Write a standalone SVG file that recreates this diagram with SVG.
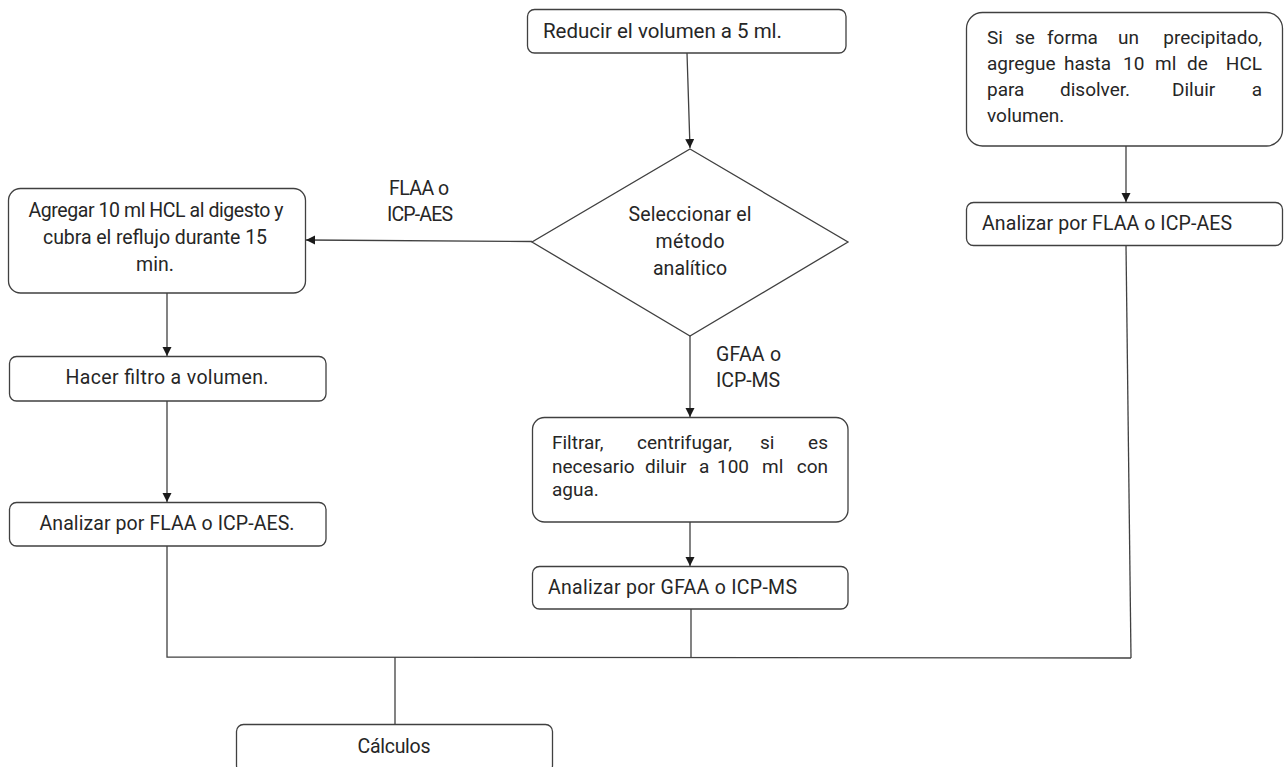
<svg xmlns="http://www.w3.org/2000/svg" width="1287" height="767" viewBox="0 0 1287 767">
  <style>
    .box { fill: #ffffff; stroke: #404040; stroke-width: 1.3; }
    .t { font-family: Roboto, "Open Sans", "Liberation Sans", sans-serif; font-size: 19.5px; fill: #262626; }
    .j { font-size: 19px; }
    .big { font-size: 20.5px; }
    .c { text-anchor: middle; }
    .ln { fill: none; stroke: #404040; stroke-width: 1.3; }
  </style>
  <defs>
    <marker id="arrow" markerUnits="userSpaceOnUse" markerWidth="10" markerHeight="10" refX="9" refY="4.5" orient="auto">
      <path d="M0,0 L9,4.5 L0,9 z" fill="#1a1a1a"/>
    </marker>
  </defs>
  <rect width="1287" height="767" fill="#ffffff"/>

  <!-- connectors -->
  <g id="connectors">
    <path class="ln" d="M687,53 L690,148" marker-end="url(#arrow)"/>
    <path class="ln" d="M532,241.5 L306,240" marker-end="url(#arrow)"/>
    <path class="ln" d="M167,293 L167,356" marker-end="url(#arrow)"/>
    <path class="ln" d="M167,401 L167,502" marker-end="url(#arrow)"/>
    <path class="ln" d="M690,336 L690,417" marker-end="url(#arrow)"/>
    <path class="ln" d="M690,522 L690,566" marker-end="url(#arrow)"/>
    <path class="ln" d="M1126,146 L1126,202" marker-end="url(#arrow)"/>
    <!-- collecting line towards the calculation step -->
    <path class="ln" d="M167,546 L167,657 L1131,658"/>
    <path class="ln" d="M691,609 L691,657"/>
    <path class="ln" d="M1126,245 L1131,658"/>
    <path class="ln" d="M395,657 L395,725"/>
    <text class="t c" x="419" y="195" textLength="60">FLAA o</text>
    <text class="t c" x="420" y="221" textLength="66">ICP-AES</text>
    <text class="t" x="716" y="361" textLength="65">GFAA o</text>
    <text class="t" x="716" y="387" textLength="64">ICP-MS</text>
  </g>

  <g id="reducir">
    <rect class="box" x="527.5" y="9.5" width="318.5" height="43.5" rx="7"/>
    <text class="t big" x="543" y="38" textLength="239">Reducir el volumen a 5 ml.</text>
  </g>

  <g id="seleccionar">
    <path class="box" d="M690,149 L848,242 L690,336 L532,242 z"/>
    <text class="t c" x="690" y="221" textLength="123">Seleccionar el</text>
    <text class="t c" x="690" y="248" textLength="69">método</text>
    <text class="t c" x="690" y="275" textLength="74">analítico</text>
  </g>

  <g id="agregar">
    <rect class="box" x="8.5" y="188.5" width="297" height="104.5" rx="12"/>
    <text class="t c" x="156" y="217" textLength="255">Agregar 10 ml HCL al digesto y</text>
    <text class="t c" x="155" y="244" textLength="224">cubra el reflujo durante 15</text>
    <text class="t c" x="155" y="271">min.</text>
  </g>

  <g id="hacer-filtro">
    <rect class="box" x="9.5" y="356.5" width="316.5" height="44.5" rx="7"/>
    <text class="t c" x="167" y="384" textLength="203">Hacer filtro a volumen.</text>
  </g>

  <g id="analizar-flaa">
    <rect class="box" x="9.5" y="502.5" width="316.5" height="43.5" rx="7"/>
    <text class="t c" x="167" y="530" textLength="255">Analizar por FLAA o ICP-AES.</text>
  </g>

  <g id="filtrar">
    <rect class="box" x="532.5" y="417.5" width="315.5" height="104.5" rx="12"/>
    <text class="t j" y="449"><tspan x="552">Filtrar,</tspan><tspan x="637">centrifugar,</tspan><tspan x="760">si</tspan><tspan x="828" text-anchor="end">es</tspan></text>
    <text class="t j" y="473"><tspan x="552">necesario</tspan><tspan x="645">diluir</tspan><tspan x="699">a</tspan><tspan x="717">100</tspan><tspan x="762">ml</tspan><tspan x="828" text-anchor="end">con</tspan></text>
    <text class="t j" x="552" y="496">agua.</text>
  </g>

  <g id="analizar-gfaa">
    <rect class="box" x="532.5" y="566.5" width="315.5" height="42.5" rx="7"/>
    <text class="t" x="548" y="594" textLength="249">Analizar por GFAA o ICP-MS</text>
  </g>

  <g id="precipitado">
    <rect class="box" x="966.5" y="12.5" width="316" height="133.5" rx="16"/>
    <text class="t j" y="44"><tspan x="987">Si</tspan><tspan x="1015">se</tspan><tspan x="1047">forma</tspan><tspan x="1118">un</tspan><tspan x="1262" text-anchor="end">precipitado,</tspan></text>
    <text class="t j" y="70"><tspan x="987">agregue</tspan><tspan x="1064">hasta</tspan><tspan x="1123">10</tspan><tspan x="1155">ml</tspan><tspan x="1187">de</tspan><tspan x="1262" text-anchor="end">HCL</tspan></text>
    <text class="t j" y="96"><tspan x="987">para</tspan><tspan x="1060">disolver.</tspan><tspan x="1172">Diluir</tspan><tspan x="1262" text-anchor="end">a</tspan></text>
    <text class="t j" x="987" y="122">volumen.</text>
  </g>

  <g id="analizar-flaa-2">
    <rect class="box" x="966.5" y="202.5" width="316" height="43" rx="7"/>
    <text class="t" x="982" y="230" textLength="250">Analizar por FLAA o ICP-AES</text>
  </g>

  <g id="calculos">
    <rect class="box" x="236.5" y="724.5" width="316" height="48" rx="7"/>
    <text class="t c" x="394" y="753" textLength="73">Cálculos</text>
  </g>
</svg>
